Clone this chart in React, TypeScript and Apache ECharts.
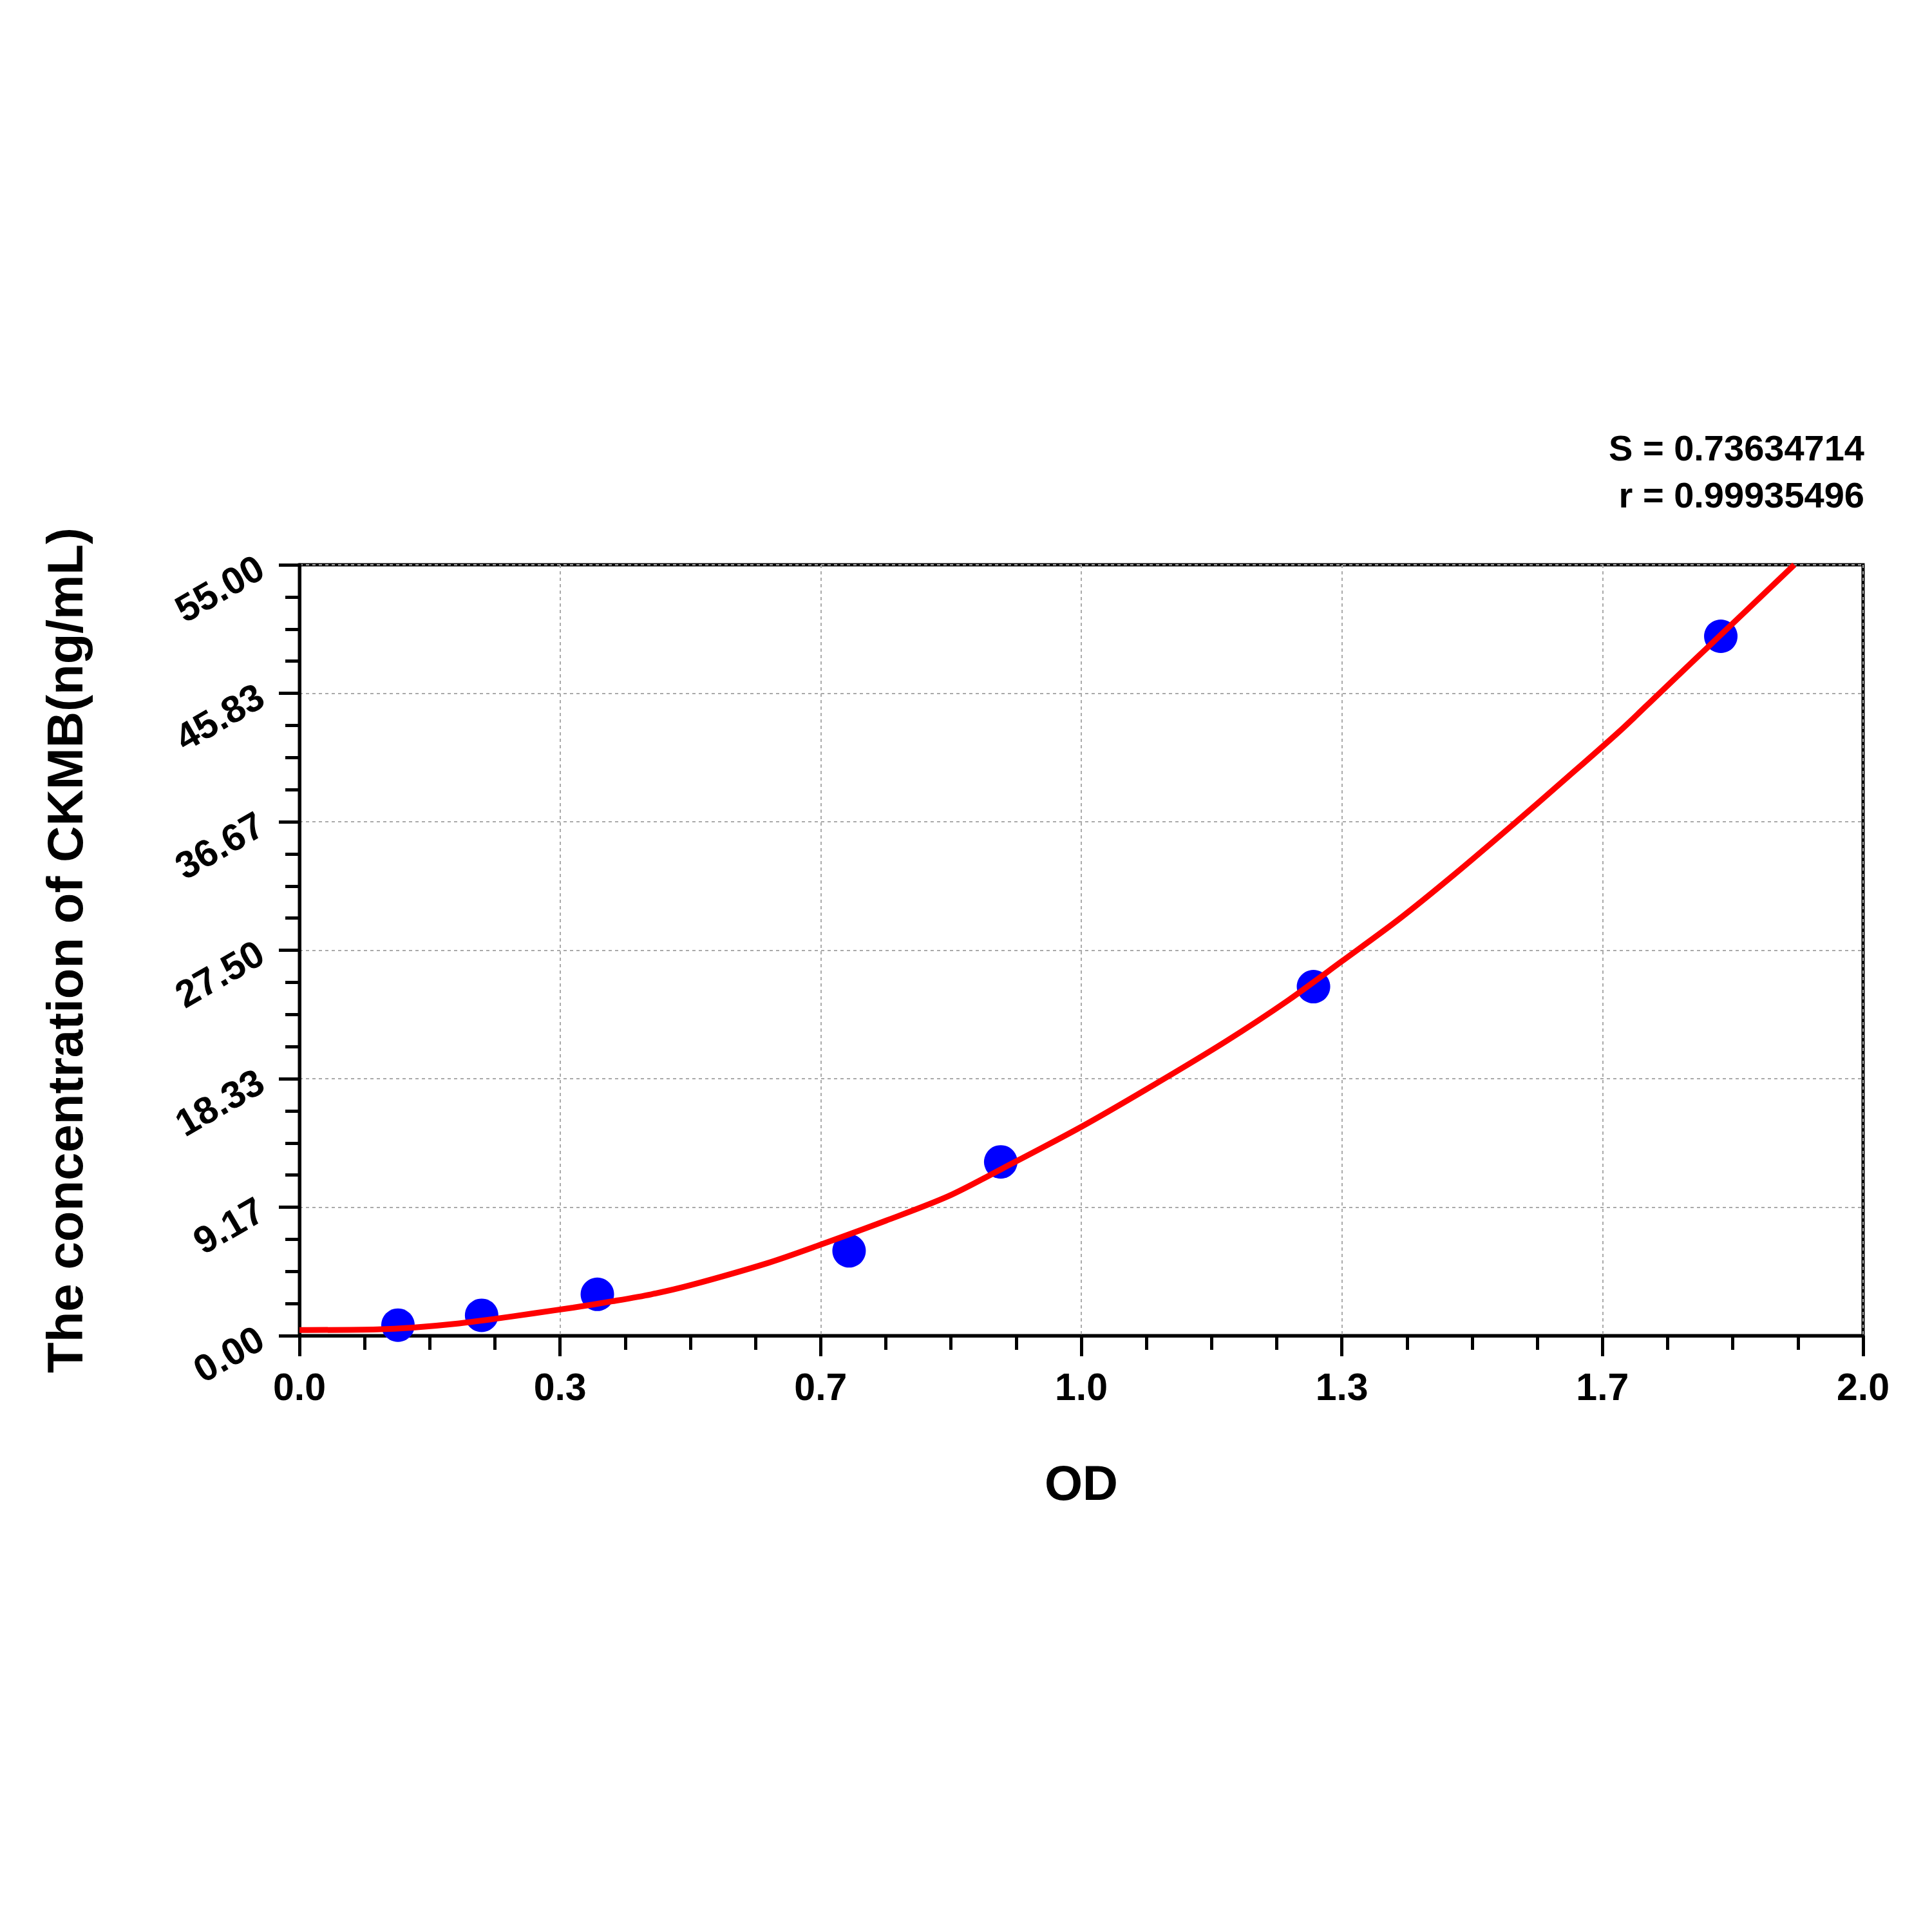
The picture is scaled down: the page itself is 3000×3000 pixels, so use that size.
import React, { useEffect, useRef } from "react";
import * as echarts from "echarts";

// Standard points (OD, concentration ng/mL)
const pointOD = [0.126, 0.233, 0.381, 0.703, 0.897, 1.297, 1.818];
const pointConc = [0.75, 1.45, 2.95, 6.05, 12.4, 24.9, 49.9];

// Fitted curve
const curveOD = [0, 0.1, 0.15, 0.2, 0.25, 0.3, 0.35, 0.4, 0.45, 0.5, 0.6, 0.667, 0.75, 0.83, 0.9, 1.0, 1.09, 1.185, 1.264, 1.333, 1.406, 1.477, 1.553, 1.619, 1.69, 1.737, 1.784, 1.818, 1.912];
const curveConc = [0.4, 0.45, 0.6, 0.85, 1.2, 1.6, 2.0, 2.45, 2.95, 3.6, 5.2, 6.5, 8.2, 9.95, 11.95, 14.9, 17.8, 21.0, 23.9, 26.7, 29.7, 32.9, 36.5, 39.7, 43.2, 45.7, 48.2, 50.0, 55.0];

const xTickLabels = ["0.0", "0.3", "0.7", "1.0", "1.3", "1.7", "2.0"];
const yTickLabels = ["0.00", "9.17", "18.33", "27.50", "36.67", "45.83", "55.00"];
const X_MAX = 2.0;
const Y_MAX = 55;

const statLines = ["S = 0.73634714", "r = 0.99935496"];
const xTitle = "OD";
const yTitle = "The concentration of CKMB(ng/mL)";

const FONT = "'Liberation Sans', Arial, Helvetica, sans-serif";

export default function App() {
  const ref = useRef<HTMLDivElement>(null);
  useEffect(() => {
    if (!ref.current) return;
    const chart = echarts.init(ref.current, undefined, { renderer: "svg" });
    const xInterval = X_MAX / (xTickLabels.length - 1);
    const yInterval = Y_MAX / (yTickLabels.length - 1);
    const axisCommon = {
      axisLine: { show: true, onZero: false, lineStyle: { color: "#000", width: 5 } },
      axisTick: { show: true, inside: false, length: 32, lineStyle: { color: "#000", width: 5 } },
      minorTick: { show: true, splitNumber: 4, length: 22, lineStyle: { color: "#000", width: 5 } },
      splitLine: { show: true, lineStyle: { color: "#aaaaaa", width: 2, type: [5, 5] } },
    };
    const option: any = {
      animation: false,
      backgroundColor: "#ffffff",
      grid: {
        left: 465,
        right: 107,
        top: 877,
        bottom: 926,
        show: true,
        borderColor: "#000",
        borderWidth: 5,
        backgroundColor: "transparent",
      },
      xAxis: {
        type: "value",
        min: 0,
        max: X_MAX,
        interval: xInterval,
        ...axisCommon,
        axisLabel: {
          formatter: (v: number) => xTickLabels[Math.round(v / xInterval)] ?? "",
          fontSize: 59,
          fontWeight: "bold",
          color: "#000",
          fontFamily: FONT,
          margin: 50,
        },
        name: xTitle,
        nameLocation: "middle",
        nameGap: 190,
        nameTextStyle: { fontSize: 76, fontWeight: "bold", color: "#000", fontFamily: FONT },
      },
      yAxis: {
        type: "value",
        min: 0,
        max: Y_MAX,
        interval: yInterval,
        ...axisCommon,
        axisLabel: {
          formatter: (v: number) => yTickLabels[Math.round(v / yInterval)] ?? "",
          fontSize: 59,
          fontWeight: "bold",
          color: "#000",
          fontFamily: FONT,
          margin: 60,
          rotate: 30,
        },
        name: yTitle,
        nameLocation: "middle",
        nameGap: 325,
        nameTextStyle: { fontSize: 78, fontWeight: "bold", color: "#000", fontFamily: FONT },
      },
      series: [
        {
          type: "scatter",
          data: pointOD.map((x, i) => [x, pointConc[i]]),
          symbol: "circle",
          symbolSize: 52,
          itemStyle: { color: "#0000ff", opacity: 1 },
          z: 2,
        },
        {
          type: "line",
          data: curveOD.map((x, i) => [x, curveConc[i]]),
          showSymbol: false,
          smooth: 0.3,
          clip: false,
          lineStyle: { color: "#ff0000", width: 9 },
          z: 3,
        },
      ],
      graphic: statLines.map((t, i) => ({
        type: "text",
        right: 3000 - 2895,
        top: 680 + i * 73 - 13,
        style: {
          text: t,
          fontSize: 56,
          fontWeight: "bold",
          fontFamily: FONT,
          fill: "#000",
        },
      })),
    };
    chart.setOption(option);
    return () => chart.dispose();
  }, []);
  return (
    <div
      ref={ref}
      style={{ position: "absolute", left: 0, top: 0, width: 3000, height: 3000, background: "#fff" }}
    />
  );
}
